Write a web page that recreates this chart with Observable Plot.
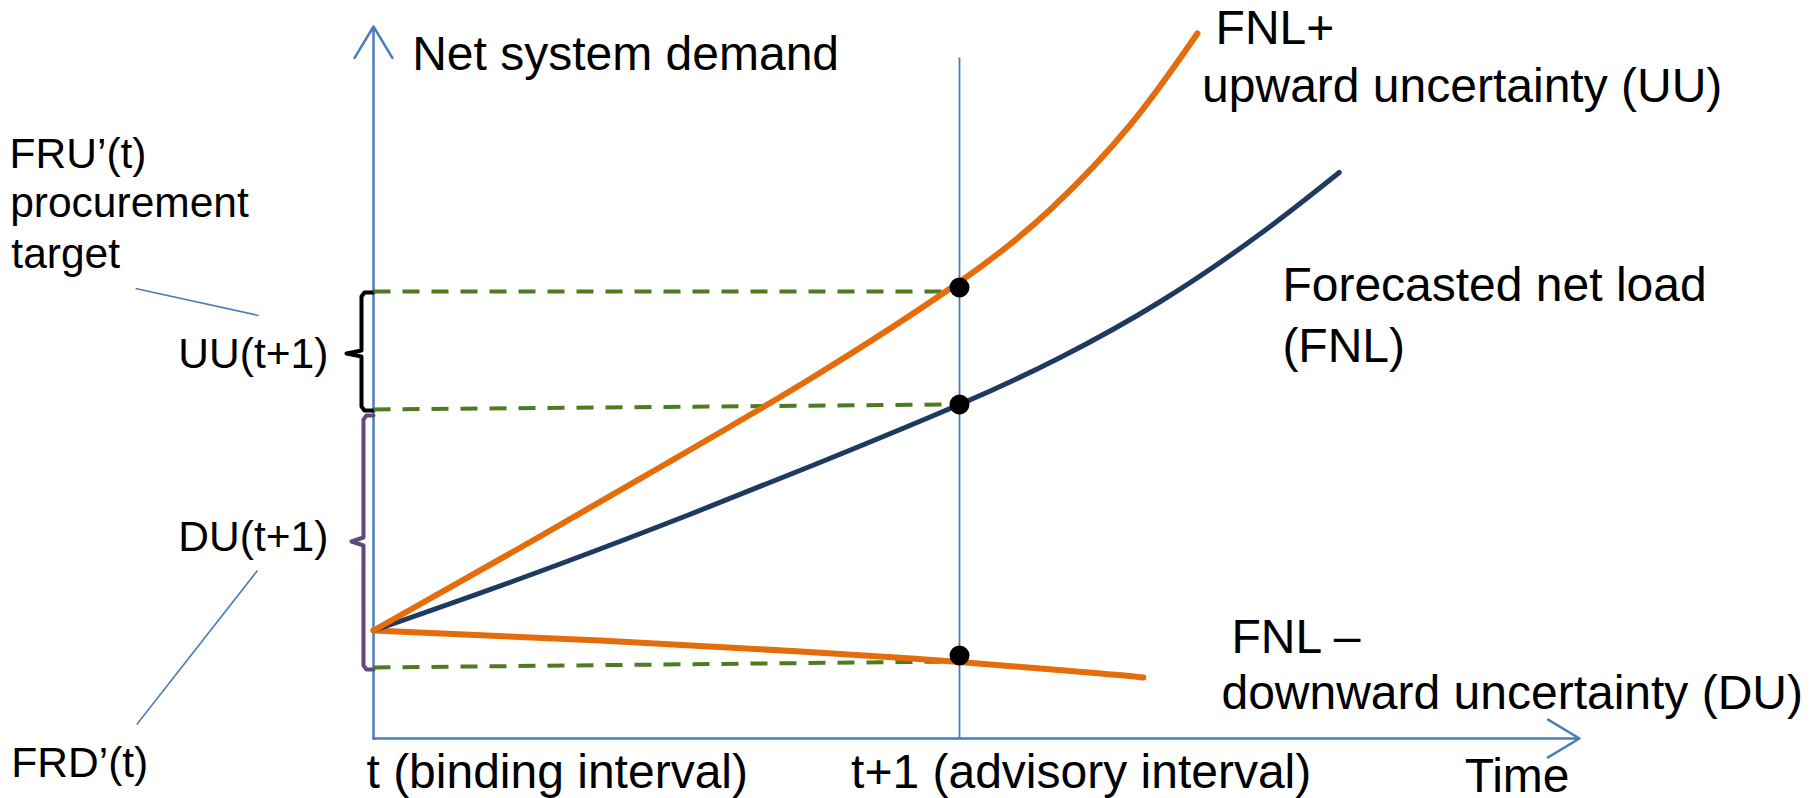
<!DOCTYPE html>
<html>
<head>
<meta charset="utf-8">
<script src="https://cdn.jsdelivr.net/npm/d3@7"></script>
<script src="https://cdn.jsdelivr.net/npm/@observablehq/plot@0.6"></script>
<style>
  html, body { margin: 0; padding: 0; background: #ffffff; }
  #chart svg { display: block; }
</style>
</head>
<body>
<div id="chart"></div>
<script>
// ---- data (time units: t = 0, t+1 = 1; demand in arbitrary units) ----
const uuTime = [0, 0.251, 0.5, 0.749, 1, 1.155, 1.292, 1.406];
const uuDemand = [1.08, 1.91, 2.75, 3.61, 4.565, 5.29, 6.14, 7.05];

const fnlTime = [0, 0.251, 0.5, 0.749, 1, 1.172, 1.343, 1.514, 1.648];
const fnlDemand = [1.08, 1.60, 2.15, 2.73, 3.34, 3.81, 4.37, 5.05, 5.66];

const duTime = [0, 0.387, 0.729, 1, 1.241, 1.314];
const duDemand = [1.08, 0.98, 0.87, 0.765, 0.65, 0.61];

// values at t+1 (dots) and the dashed projections back to t
const dotDemand = [4.51, 3.34, 0.83];
const guideStart = [4.47, 3.29, 0.71];
const guideEnd = [4.47, 3.34, 0.77];
const guideEndTime = [0.985, 0.985, 0.993];

// braces  (time, demand)
const uuBraceTime = [0, -0.0154, -0.0205, -0.0205, -0.0461, -0.0205, -0.0205, -0.0154, 0];
const uuBraceDemand = [4.46, 4.46, 4.42, 3.88, 3.85, 3.82, 3.32, 3.28, 3.28];
const duBraceTime = [0, -0.0119, -0.0171, -0.0171, -0.0375, -0.0171, -0.0171, -0.0119, 0];
const duBraceDemand = [3.23, 3.23, 3.19, 2.01, 1.97, 1.93, 0.73, 0.69, 0.69];

// text labels
const mainLabels = [
  {text: "Net system demand", t: 0.066, v: 6.69},
  {text: "FNL+", t: 1.437, v: 6.95},
  {text: "upward uncertainty (UU)", t: 1.414, v: 6.37},
  {text: "Forecasted net load", t: 1.551, v: 4.38},
  {text: "(FNL)", t: 1.551, v: 3.77},
  {text: "FNL \u2013", t: 1.464, v: 0.86},
  {text: "downward uncertainty (DU)", t: 1.447, v: 0.30},
  {text: "Time", t: 1.862, v: -0.53},
  {text: "t (binding interval)", t: -0.012, v: -0.49},
  {text: "t+1 (advisory interval)", t: 0.815, v: -0.49}
];
const sideLabels = [
  {text: "FRU\u2019(t)", t: -0.621, v: 5.71},
  {text: "procurement", t: -0.620, v: 5.22},
  {text: "target", t: -0.618, v: 4.71},
  {text: "UU(t+1)", t: -0.333, v: 3.71},
  {text: "DU(t+1)", t: -0.333, v: 1.88},
  {text: "FRD\u2019(t)", t: -0.618, v: -0.38}
];
const leaders = [
  {t1: -0.406, v1: 4.50, t2: -0.196, v2: 4.23},
  {t1: -0.198, v1: 1.68, t2: -0.404, v2: 0.14}
];

// axes extents
const axisTopDemand = 7.12;
const axisEndTime = 2.058;
const advisoryTopDemand = 6.81;

// ---- build tables ----
const zip = (ts, vs) => ts.map((t, i) => ({t, v: vs[i]}));
const uu = zip(uuTime, uuDemand);
const fnl = zip(fnlTime, fnlDemand);
const du = zip(duTime, duDemand);
const dots = dotDemand.map(v => ({t: 1, v}));
const guides = guideStart.map((v, i) => ({t1: 0, v1: v, t2: guideEndTime[i], v2: guideEnd[i]}));
const uuBrace = zip(uuBraceTime, uuBraceDemand);
const duBrace = zip(duBraceTime, duBraceDemand);

const blue = "#4a7ebb";
const orange = "#e46c0a";
const navy = "#1f3a60";
const green = "#4d7b20";
const purple = "#604a7b";
const font = "'Liberation Sans', Arial, Helvetica, sans-serif";

const chart = Plot.plot({
  width: 1814,
  height: 798,
  margin: 0,
  style: {fontFamily: font, background: "#ffffff", overflow: "visible"},
  x: {domain: [0, 1], range: [373, 959], axis: null},
  y: {domain: [0, 1], range: [738, 638], axis: null},
  marks: [
    // axes
    Plot.arrow([{t1: 0, v1: 0, t2: 0, v2: axisTopDemand}], {x1: "t1", y1: "v1", x2: "t2", y2: "v2", stroke: blue, strokeWidth: 2.5, headLength: 22, headAngle: 62}),
    Plot.arrow([{t1: 0, v1: 0, t2: axisEndTime, v2: 0}], {x1: "t1", y1: "v1", x2: "t2", y2: "v2", stroke: blue, strokeWidth: 2.5, headLength: 22, headAngle: 62}),
    Plot.link([{t: 1, v1: 0, v2: advisoryTopDemand}], {x1: "t", x2: "t", y1: "v1", y2: "v2", stroke: blue, strokeWidth: 1.8}),
    // leader lines
    Plot.link(leaders, {x1: "t1", y1: "v1", x2: "t2", y2: "v2", stroke: blue, strokeWidth: 1.6}),
    // braces
    Plot.line(uuBrace, {x: "t", y: "v", stroke: "#000000", strokeWidth: 4, strokeLinejoin: "round"}),
    Plot.line(duBrace, {x: "t", y: "v", stroke: purple, strokeWidth: 4, strokeLinejoin: "round"}),
    // dashed projections
    Plot.link(guides, {x1: "t1", y1: "v1", x2: "t2", y2: "v2", stroke: green, strokeWidth: 4, strokeDasharray: "17,12"}),
    // curves
    Plot.line(du, {x: "t", y: "v", stroke: orange, strokeWidth: 6, curve: "natural"}),
    Plot.line(fnl, {x: "t", y: "v", stroke: navy, strokeWidth: 5, curve: "natural"}),
    Plot.line(uu, {x: "t", y: "v", stroke: orange, strokeWidth: 6, curve: "natural"}),
    // dots at t+1
    Plot.dot(dots, {x: "t", y: "v", r: 10, fill: "#000000"}),
    // labels
    Plot.text(mainLabels, {x: "t", y: "v", text: "text", textAnchor: "start", lineAnchor: "bottom", fontSize: 48, fill: "#000000"}),
    Plot.text(sideLabels, {x: "t", y: "v", text: "text", textAnchor: "start", lineAnchor: "bottom", fontSize: 42.5, fill: "#000000"})
  ]
});
document.getElementById("chart").appendChild(chart);
</script>
</body>
</html>
